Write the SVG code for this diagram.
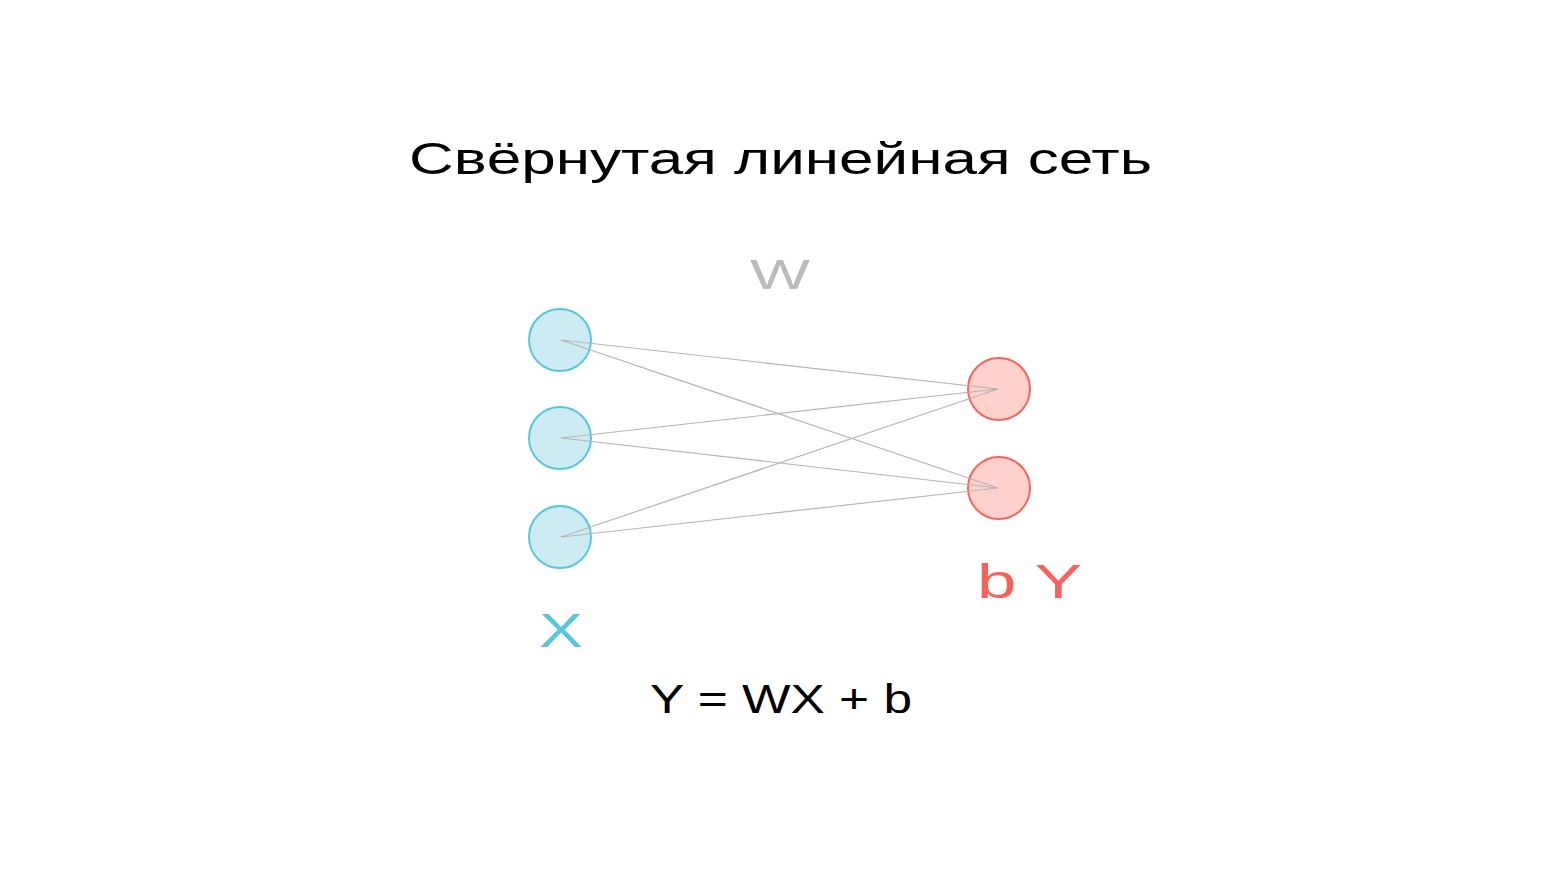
<svg xmlns="http://www.w3.org/2000/svg" width="1560" height="877" viewBox="0 0 1560 877">
<style>
text{font-family:"Liberation Sans","DejaVu Sans",sans-serif}
.in{fill:#CDEBF3;stroke:#5BC5DE;stroke-width:2}
.out{fill:#FFD1CD;stroke:#F4645A;stroke-width:2}
.edge{stroke:#B5B5B5;stroke-width:1.2;fill:none}
</style>
<rect width="1560" height="877" fill="#FFFFFF"/>
<text id="title" x="409" y="174" font-size="44" fill="#000" textLength="743" lengthAdjust="spacingAndGlyphs">Свёрнутая линейная сеть</text>
<text id="wlabel" x="750" y="289" font-size="43" fill="#BBBBBB" textLength="60" lengthAdjust="spacingAndGlyphs">W</text>
<g id="nodes-x">
<circle id="x1" class="in" cx="560" cy="340" r="31"/>
<circle id="x2" class="in" cx="560" cy="438" r="31"/>
<circle id="x3" class="in" cx="560" cy="537" r="31"/>
</g>
<g id="nodes-y">
<circle id="y1" class="out" cx="999" cy="389" r="31"/>
<circle id="y2" class="out" cx="999" cy="488" r="31"/>
</g>
<g id="connectors">
<line class="edge" x1="561" y1="340" x2="998" y2="389"/>
<line class="edge" x1="561" y1="340" x2="998" y2="488"/>
<line class="edge" x1="561" y1="438" x2="998" y2="389"/>
<line class="edge" x1="561" y1="438" x2="998" y2="488"/>
<line class="edge" x1="561" y1="537" x2="998" y2="389"/>
<line class="edge" x1="561" y1="537" x2="998" y2="488"/>
</g>
<text id="xlabel" x="539" y="647" font-size="49" fill="#5BC5DE" textLength="44" lengthAdjust="spacingAndGlyphs">X</text>
<text id="bylabel" x="977" y="598" font-size="49" fill="#F4645A" textLength="105" lengthAdjust="spacingAndGlyphs">b Y</text>
<text id="formula" x="650" y="713" font-size="40" fill="#000" textLength="262" lengthAdjust="spacingAndGlyphs">Y = WX + b</text>
</svg>
